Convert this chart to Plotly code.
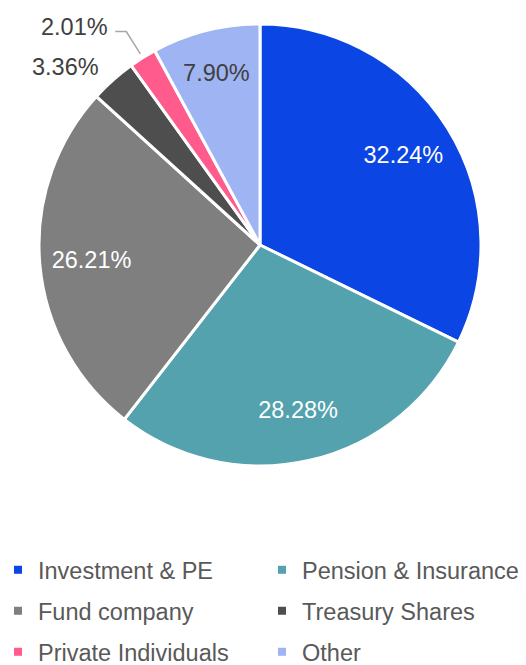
import math
import plotly.graph_objects as go

# shareholder structure
labels = ["Investment & PE", "Pension & Insurance", "Fund company",
          "Treasury Shares", "Private Individuals", "Other"]
values = [32.24, 28.28, 26.21, 3.36, 2.01, 7.90]
colors = ["#0B45E3", "#53A2AD", "#7F7F7F", "#4E4E4E", "#FF5B8C", "#9FB4F2"]
text_pos = ["inside", "inside", "inside", "none", "none", "inside"]
text_col = ["white", "white", "white", "#404040", "#404040", "#404040"]

FONT = "Liberation Sans, Arial, sans-serif"
FS = 23.5

fig = go.Figure()

# the pie itself (no text)
fig.add_trace(go.Pie(
    labels=labels, values=values, sort=False, direction="clockwise", rotation=0,
    marker=dict(colors=colors, line=dict(color="white", width=3)),
    textinfo="none", showlegend=False, hoverinfo="label+value"))

# transparent donut on top, only to place the inside labels further out
fig.add_trace(go.Pie(
    labels=labels, values=values, sort=False, direction="clockwise", rotation=0,
    hole=0.53,
    marker=dict(colors=["rgba(0,0,0,0)"] * len(values), line=dict(width=0)),
    texttemplate="%{value:.2f}%", textposition=text_pos,
    insidetextorientation="horizontal",
    insidetextfont=dict(color=text_col, size=FS, family=FONT),
    showlegend=False, hoverinfo="skip"))

# outside labels for the two small slices (paper coords, pie centre 0.5/0.5, radius 0.5)
total = sum(values)
mid = []
acc = 0
for v in values:
    mid.append((acc + v / 2) / total * 2 * math.pi)
    acc += v

def at(i, k):
    return 0.5 + 0.5 * k * math.sin(mid[i]), 0.5 + 0.5 * k * math.cos(mid[i])

# Treasury Shares: plain label next to the slice
x3, y3 = at(3, 1.08)
fig.add_annotation(x=x3, y=y3, xref="paper", yref="paper", text="%.2f%%" % values[3],
                   showarrow=False, xanchor="right", yanchor="middle",
                   font=dict(size=FS, color="#404040", family=FONT))

# Private Individuals: label with an elbow leader line
xa, ya = at(4, 1.02)
xb, yb = at(4, 1.14)
xc = xb - 11 / 442
fig.add_shape(type="path", xref="paper", yref="paper",
              path="M %f %f L %f %f L %f %f" % (xa, ya, xb, yb, xc, yb),
              line=dict(color="#A6A6A6", width=1.5))
fig.add_annotation(x=xc, y=yb, xref="paper", yref="paper", text="%.2f%%" % values[4],
                   showarrow=False, xanchor="right", yanchor="middle", xshift=-5, yshift=4,
                   font=dict(size=FS, color="#404040", family=FONT))

# legend: 3 rows x 2 columns, one small legend per entry
rows_py = [562, 603, 644]
cols_px = [-10, 254]
for i, (lab, col) in enumerate(zip(labels, colors)):
    leg = "legend" if i == 0 else "legend%d" % (i + 1)
    fig.add_trace(go.Scatter(x=[None], y=[None], mode="markers", name=lab,
                             marker=dict(symbol="square", size=8, color=col),
                             legend=leg, showlegend=True))

legends = {}
for i in range(len(labels)):
    key = "legend" if i == 0 else "legend%d" % (i + 1)
    legends[key] = dict(
        x=(cols_px[i % 2] - 31) / 442, y=(458 - rows_py[i // 2]) / 442,
        xanchor="left", yanchor="middle", orientation="h",
        font=dict(size=FS, color="#595959", family=FONT),
        bgcolor="rgba(0,0,0,0)", itemclick=False, itemdoubleclick=False)

fig.update_layout(
    width=518, height=657,
    margin=dict(l=31, r=45, t=16, b=199, autoexpand=False),
    paper_bgcolor="white", plot_bgcolor="white",
    xaxis=dict(visible=False), yaxis=dict(visible=False),
    **legends,
)

fig.write_html("out.html")
